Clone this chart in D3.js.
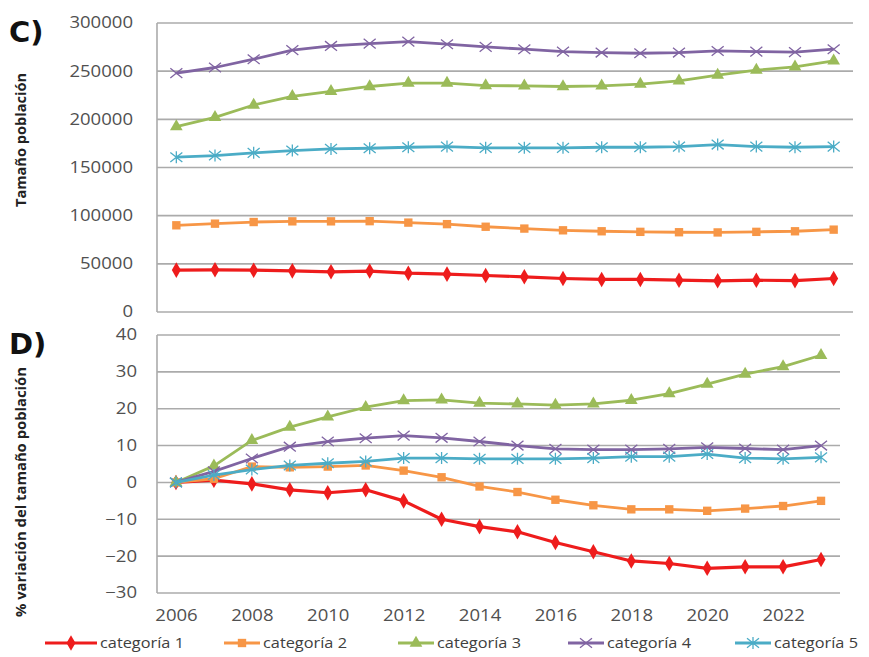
<!DOCTYPE html>
<html><head><meta charset="utf-8">
<script src="https://cdn.jsdelivr.net/npm/d3@7"></script>
<style>
html,body{margin:0;padding:0;background:#fff;}
svg{display:block;font-family:"Open Sans","DejaVu Sans",sans-serif;}
</style></head>
<body><svg id="chart" width="869" height="657"></svg>
<script>
const years = [2006,2007,2008,2009,2010,2011,2012,2013,2014,2015,2016,2017,2018,2019,2020,2021,2022,2023];
const seriesNames = ["categoría 1","categoría 2","categoría 3","categoría 4","categoría 5"];
const popCat1 = [43500,43800,43400,42700,41700,42500,40300,39300,37900,36500,34800,33800,33800,33000,32400,33000,32600,34800];
const popCat2 = [90000,91700,93400,94100,94100,94300,92800,91200,88500,86600,84800,83800,83200,82800,82600,83200,83800,85500];
const popCat3 = [192400,202000,214900,223800,229000,234100,237600,237600,235000,234800,234100,234800,236600,240000,245900,251000,254500,260700];
const popCat4 = [248000,253800,262400,271800,276200,278600,280700,278000,275200,272800,270300,269300,268600,269300,271000,270300,269800,272800];
const popCat5 = [160700,162400,165200,167600,169300,170000,171000,171700,170400,170400,170400,171000,171000,171700,173800,171700,171000,171700];
const pctCat1 = [0,0.6,-0.4,-2,-2.8,-2,-5,-10,-12,-13.4,-16.3,-18.8,-21.3,-22,-23.3,-22.9,-22.9,-20.9];
const pctCat2 = [0,1,4.3,4.1,4.3,4.6,3.2,1.4,-1.1,-2.6,-4.7,-6.2,-7.3,-7.3,-7.7,-7.1,-6.4,-5];
const pctCat3 = [0,4.5,11.4,15,17.8,20.4,22.2,22.4,21.5,21.3,21,21.3,22.3,24.1,26.7,29.4,31.4,34.5];
const pctCat4 = [0,3,6.5,9.7,11.1,12,12.7,12.1,11.1,10,9.1,8.9,8.9,9.1,9.5,9.2,8.9,10];
const pctCat5 = [0,2,3.5,4.6,5.2,5.7,6.6,6.6,6.4,6.4,6.4,6.6,7,7,7.7,6.6,6.4,6.8];
const popTicks = [0,50000,100000,150000,200000,250000,300000];
const pctTicks = [-30,-20,-10,0,10,20,30,40];
const yearLabels = [2006,2008,2010,2012,2014,2016,2018,2020,2022];

const colors = ["#EE1C1C","#F79646","#9BBB59","#8064A2","#4BACC6"];
const markers = ["diamond","square","triangle","x","star"];

const svg = d3.select("#chart");

function drawMarker(g, type, color, x, y, s) {
  s = s || 1;
  if (type === "diamond") {
    g.append("path").attr("d", d3.symbol(d3.symbolDiamond, 70*s)()).attr("transform",`translate(${x},${y})`).attr("fill",color);
  } else if (type === "square") {
    g.append("path").attr("d", d3.symbol(d3.symbolSquare, 70*s)()).attr("transform",`translate(${x},${y})`).attr("fill",color);
  } else if (type === "triangle") {
    g.append("path").attr("d", d3.symbol(d3.symbolTriangle, 70*s)()).attr("transform",`translate(${x},${y})`).attr("fill",color);
  } else if (type === "x") {
    const r = 6*s;
    g.append("path").attr("d",`M${-r},${-r*0.8}L${r},${r*0.8}M${-r},${r*0.8}L${r},${-r*0.8}`).attr("transform",`translate(${x},${y})`).attr("stroke",color).attr("stroke-width",1.3).attr("fill","none");
  } else {
    const r = 6*s;
    g.append("path").attr("d",`M${-r},${-r*0.8}L${r},${r*0.8}M${-r},${r*0.8}L${r},${-r*0.8}M0,${-r}L0,${r}`).attr("transform",`translate(${x},${y})`).attr("stroke",color).attr("stroke-width",1.3).attr("fill","none");
  }
}

function styleTickText(sel) {
  sel.attr("font-size",15.5).attr("fill","#505050").attr("font-family","'Open Sans',sans-serif")
    .attr("lengthAdjust","spacingAndGlyphs")
    .attr("textLength", function(){ return this.textContent.length * 10.6; });
}

function panel(opts) {
  const x = d3.scalePoint().domain(years).range([opts.left, opts.right]).padding(0.5);
  const y = d3.scaleLinear().domain(opts.domain).range([opts.bottom, opts.top]);
  const g = svg.append("g");
  g.append("g").selectAll("line").data(opts.ticks).join("line")
    .attr("x1", opts.left).attr("x2", opts.right)
    .attr("y1", d => y(d)).attr("y2", d => y(d))
    .attr("stroke", "#ababab").attr("stroke-width", 1.6);
  g.append("line").attr("x1",opts.left).attr("x2",opts.left).attr("y1",opts.top).attr("y2",opts.bottom)
    .attr("stroke","#ababab").attr("stroke-width",1.6);
  const yAxis = d3.axisLeft(y).tickValues(opts.ticks).tickSize(0).tickPadding(0).tickFormat(d3.format("d"));
  const ax = g.append("g").attr("transform",`translate(${opts.labelX},0)`).call(yAxis);
  ax.select(".domain").remove();
  styleTickText(ax.selectAll("text"));
  opts.series.forEach((vals, i) => {
    const line = d3.line().x((d,j) => x(years[j])).y(d => y(d));
    g.append("path").datum(vals).attr("d", line).attr("fill","none")
      .attr("stroke", colors[i]).attr("stroke-width", i===0 ? 3.2 : 2.8).attr("stroke-linejoin","round");
    const mg = g.append("g");
    vals.forEach((v,j) => drawMarker(mg, markers[i], colors[i], x(years[j]), y(v)));
  });
  return {x, y, g};
}

const topPanel = panel({
  left:157, right:853, top:23, bottom:312, labelX:133,
  domain:[0,300000], ticks:popTicks,
  series:[popCat1,popCat2,popCat3,popCat4,popCat5]
});

const botPanel = panel({
  left:157, right:840, top:335, bottom:593, labelX:137,
  domain:[-30,40], ticks:pctTicks,
  series:[pctCat1,pctCat2,pctCat3,pctCat4,pctCat5]
});

const xAxis = d3.axisBottom(botPanel.x).tickValues(yearLabels).tickSize(0).tickPadding(0);
const xa = svg.append("g").attr("transform","translate(0,610)").call(xAxis);
xa.select(".domain").remove();
styleTickText(xa.selectAll("text"));

svg.append("text").attr("x",9).attr("y",42).attr("font-size",29).attr("font-weight","bold").attr("font-family","'DejaVu Sans',sans-serif").attr("fill","#111").text("C)");
svg.append("text").attr("x",9).attr("y",354).attr("font-size",29).attr("font-weight","bold").attr("font-family","'DejaVu Sans',sans-serif").attr("fill","#111").text("D)");

svg.append("text").attr("transform","translate(26,140) rotate(-90)").attr("text-anchor","middle")
  .attr("font-size",14).attr("font-weight","bold").attr("fill","#222").attr("font-family","'Open Sans',sans-serif")
  .attr("textLength",134).attr("lengthAdjust","spacingAndGlyphs").text("Tamaño población");
svg.append("text").attr("transform","translate(26,492) rotate(-90)").attr("text-anchor","middle")
  .attr("font-size",14).attr("font-weight","bold").attr("fill","#222").attr("font-family","'Open Sans',sans-serif")
  .attr("textLength",250).attr("lengthAdjust","spacingAndGlyphs").text("% variación del tamaño población");

const legendX = [45, 224, 398, 568, 735];
const legY = 643;
seriesNames.forEach((name,i) => {
  const lg = svg.append("g");
  const lx = legendX[i];
  const lw = i===0 ? 52 : 36;
  lg.append("line").attr("x1",lx).attr("x2",lx+lw).attr("y1",legY).attr("y2",legY)
    .attr("stroke",colors[i]).attr("stroke-width",3);
  drawMarker(lg, markers[i], colors[i], lx+lw/2, legY);
  lg.append("text").attr("x",lx+lw+3).attr("y",legY+5).attr("font-size",15).attr("fill","#404040")
    .attr("font-family","'Open Sans',sans-serif").attr("textLength",84).attr("lengthAdjust","spacingAndGlyphs").text(name);
});
</script>
</body></html>
